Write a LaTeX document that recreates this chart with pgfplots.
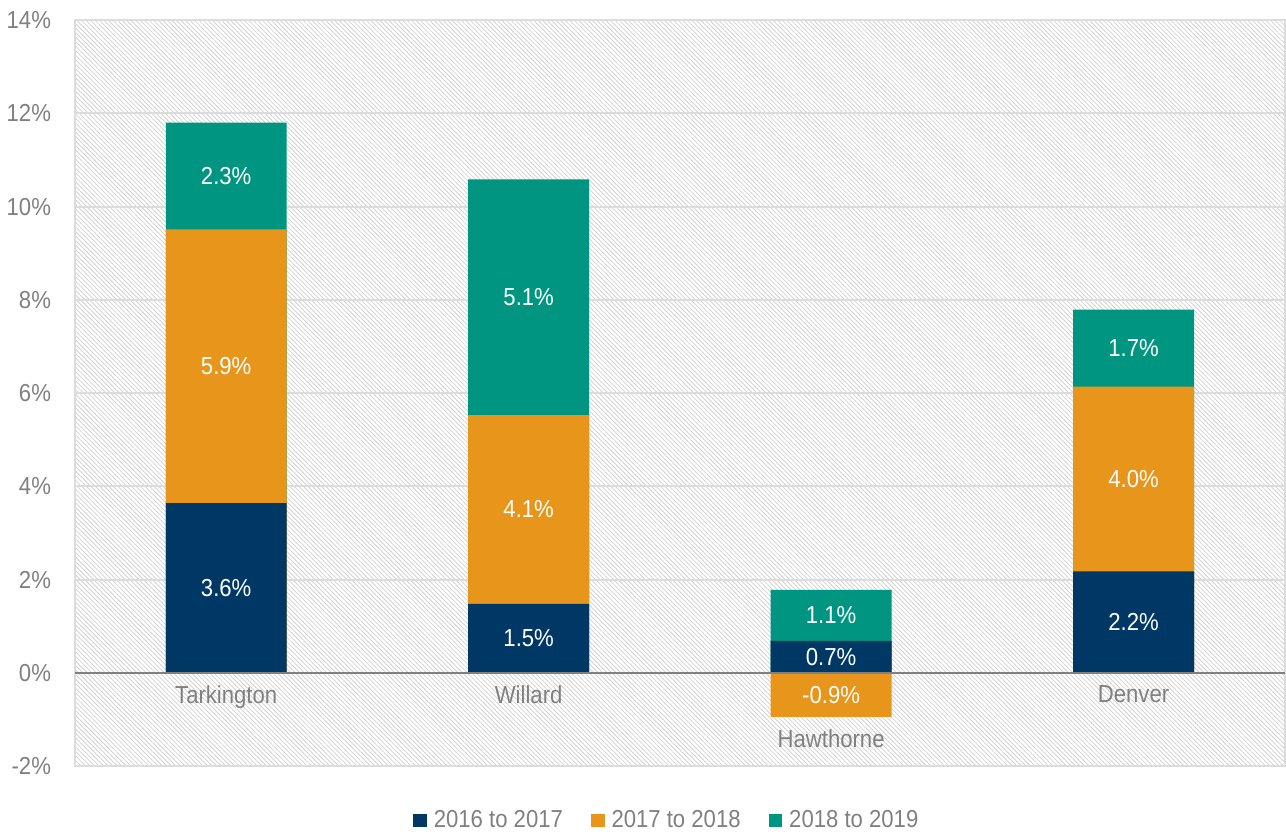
\documentclass[border=0pt]{standalone}
\usepackage{pgfplots}
\pgfplotsset{compat=1.18}
\usepackage{pgfplotstable}
\usepackage{fontspec}
\setmainfont{Liberation Sans}[FakeStretch=0.9]
\usetikzlibrary{patterns.meta}

\definecolor{navy}{HTML}{003865}
\definecolor{amber}{HTML}{E8951C}
\definecolor{sea}{HTML}{009580}
\definecolor{txtgray}{HTML}{808080}
\definecolor{gridgray}{HTML}{DCDCDC}

% segment values (a = 2016-17, b = 2017-18, c = 2018-19) and their printed labels
\pgfplotstableread{
x a     b     c    la  lb   lc
0 3.64  5.87  2.29 3.6 5.9  2.3
1 1.48  4.05  5.05 1.5 4.1  5.1
2 0.69 -0.94  1.09 0.7 -0.9 1.1
3 2.18  3.96  1.65 2.2 4.0  1.7
}\growth

\pgfplotstableread{
x y     name
0 0     Tarkington
1 0     Willard
2 -0.94 Hawthorne
3 0     Denver
}\cats

\begin{document}
\begin{tikzpicture}
\begin{axis}[
  scale only axis,
  width=605.5pt, height=373.5pt,
  xmin=-0.5, xmax=3.5,
  ymin=-2, ymax=14,
  ytick={-2,0,...,14},
  yticklabels={-2\%,0\%,2\%,4\%,6\%,8\%,10\%,12\%,14\%},
  xtick=\empty,
  minor xtick={0.5,1.5,2.5},
  xminorgrids, ymajorgrids,
  major tick length=0pt, minor tick length=0pt,
  grid style={gridgray, line width=1pt},
  minor grid style={gridgray, line width=1pt},
  axis line style={gridgray, line width=1pt},
  axis background/.style={pattern={Lines[angle=-45,distance=1.6pt,line width=0.4pt]}, pattern color=gray!35},
  yticklabel style={text=txtgray, font=\fontsize{12.3}{14}\selectfont, xshift=-8.5pt},
  legend style={at={(0.49,-0.048)}, anchor=north, draw=none, fill=none,
    legend columns=-1, font=\fontsize{12.3}{14}\selectfont, text=txtgray,
    /tikz/every odd column/.append style={column sep=1.5pt},
    /tikz/every even column/.append style={column sep=12pt}},
  reverse legend,
  legend image code/.code={\fill[#1,draw=none] (0pt,-3.4pt) rectangle (6.8pt,3.4pt);},
  clip=false,
]
% bars drawn from zero, overlapping: totals first, then the lower segments on top
\addplot[ybar, bar width=60.5pt, bar shift=0pt, fill=sea, draw=none]
  table[x=x, y expr={\thisrow{a}+max(\thisrow{b},0)+\thisrow{c}}] {\growth};
\addlegendentry{2018 to 2019}
\addplot[ybar, bar width=60.5pt, bar shift=0pt, fill=amber, draw=none]
  table[x=x, y expr={ifthenelse(\thisrow{b}>0,\thisrow{a}+\thisrow{b},\thisrow{b})}] {\growth};
\addlegendentry{2017 to 2018}
\addplot[ybar, bar width=60.5pt, bar shift=0pt, fill=navy, draw=none]
  table[x=x, y=a] {\growth};
\addlegendentry{2016 to 2017}

% zero line
\draw[txtgray, line width=1.2pt] (axis cs:-0.5,0) -- (axis cs:3.5,0);
% a little room above the plot, as in the original
\path (rel axis cs:0,1) -- ([yshift=10pt]rel axis cs:0,1);

% value labels at segment centres
\pgfplotsset{seglab/.style={forget plot, draw=none, mark=none,
  nodes near coords={\pgfplotspointmeta\%}, point meta=explicit symbolic,
  every node near coord/.append style={anchor=center, text=white, font=\fontsize{12.3}{14}\selectfont}}}
\addplot[seglab] table[x=x, y expr={\thisrow{a}/2}, meta=la] {\growth};
\addplot[seglab] table[x=x, y expr={ifthenelse(\thisrow{b}>0,\thisrow{a}+\thisrow{b}/2,\thisrow{b}/2)}, meta=lb] {\growth};
\addplot[seglab] table[x=x, y expr={\thisrow{a}+max(\thisrow{b},0)+\thisrow{c}/2}, meta=lc] {\growth};

% category names under each bar
\addplot[forget plot, draw=none, mark=none,
  nodes near coords, point meta=explicit symbolic,
  every node near coord/.append style={anchor=north, yshift=-3pt, text=txtgray, font=\fontsize{12.3}{14}\selectfont}]
  table[x=x, y=y, meta=name] {\cats};
\end{axis}
\end{tikzpicture}
\end{document}
